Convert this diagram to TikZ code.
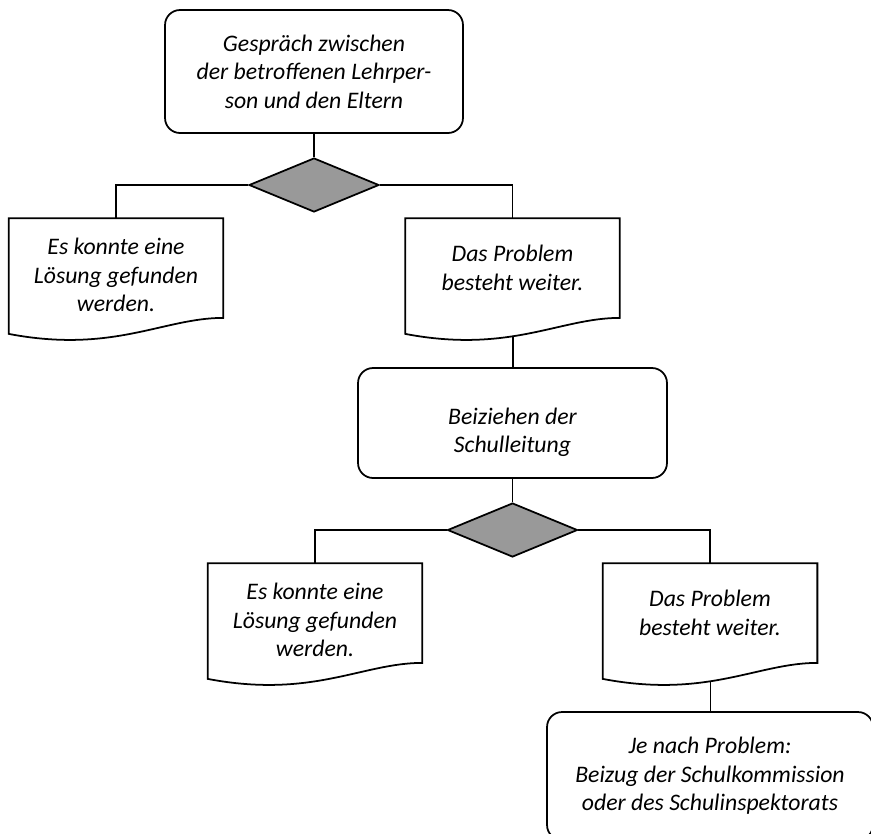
\documentclass[tikz,border=0pt]{standalone}
\usepackage{fontspec}
\setmainfont{Carlito}
\usepackage{tikz}
\usetikzlibrary{shapes.geometric,calc}

\begin{document}
\begin{tikzpicture}[x=0.02cm,y=-0.02cm,line width=1pt,
  every node/.style={font=\itshape\fontsize{13.5}{16.2}\selectfont,align=center},
  round node/.style={rectangle,rounded corners=0.3cm,draw,inner sep=0pt},
  doc node/.style={rectangle,minimum width=4.26cm,minimum height=1.96cm,inner sep=0pt},
  test node/.style={diamond,draw,fill=black!40,minimum width=2.6cm,
  minimum height=1.08cm,inner sep=0pt}]

  \useasboundingbox (0,0) rectangle (871,833);
  \clip (0,0) rectangle (871,833);

  \node[round node,minimum width=5.96cm,minimum height=2.46cm] (talk) at (314,71.5)
    {Gespräch zwischen\\der betroffenen Lehrper-\\son und den Eltern};
  \node[test node] (testA) at (314,185) {};
  \node[doc node,text height=50pt] (solA) at (116,268) {Es konnte eine\\Lösung gefunden\\werden.};
  \node[doc node] (probA) at (512.5,268) {Das Problem\\besteht weiter.};
  \node[round node,minimum width=6.18cm,minimum height=2.2cm,text height=36pt] (lead)
    at (512.5,423) {Beiziehen der\\Schulleitung};
  \node[test node] (testB) at (512.5,530) {};
  \node[doc node,text height=50pt] (solB) at (315,613) {Es konnte eine\\Lösung gefunden\\werden.};
  \node[doc node] (probB) at (710,613) {Das Problem\\besteht weiter.};
  \node[round node,minimum width=6.52cm,minimum height=2.56cm] (board) at (710,776)
    {Je nach Problem:\\Beizug der Schulkommission\\oder des Schulinspektorats};

  % document outlines with wavy bottom
  \foreach \n in {solA,probA,solB,probB}
    \draw (\n.north west) -- (\n.north east) -- (\n.south east)
      .. controls ($(\n.south east)+(-60,0)$) and ($(\n.south east)+(-110,36)$) ..
      coordinate[pos=0.58] (\n-w) ($(\n.south west)+(0,16)$) -- cycle;

  \draw (talk) -- (testA);
  \draw (testA.west) -| (solA.north);
  \draw (testA.east) -| (probA.north);
  \draw (probA-w) -- (probA-w |- lead.north);
  \draw (lead) -- (testB);
  \draw (testB.west) -| (solB.north);
  \draw (testB.east) -| (probB.north);
  \draw (probB-w) -- (probB-w |- board.north);
\end{tikzpicture}
\end{document}
